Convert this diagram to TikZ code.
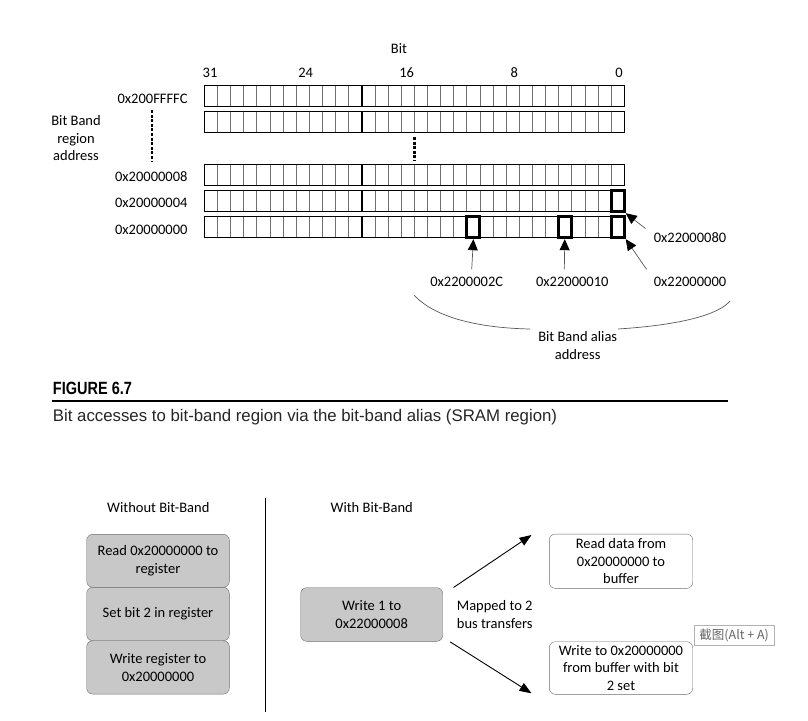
\documentclass[tikz,border=0pt]{standalone}
\usepackage{fontspec}
\setmainfont{Carlito}
\newfontfamily\capfont{Liberation Sans}
\newfontfamily\figfont[FakeStretch=0.82]{Liberation Sans}
\newfontfamily\cjkfont{Noto Sans CJK SC}
\usetikzlibrary{arrows.meta}
\definecolor{boxgray}{HTML}{C8C8C8}
\definecolor{edgegray}{HTML}{6E6E6E}
\definecolor{cellgray}{HTML}{707070}

\begin{document}
\begin{tikzpicture}[x=1pt,y=-1pt,
    txt/.style={font=\fontsize{14.5}{17.6}\selectfont,inner sep=0pt},
    hbit/.style={draw,line width=3pt,minimum width=13.1pt,minimum height=21pt,inner sep=0pt},
    ptr/.style={draw=gray!70!black,line width=0.7pt,-{Triangle[length=11pt,width=10pt,color=black]}},
    bus/.style={line width=0.9pt,-{Triangle[length=12pt,width=9pt]}},
    greybox/.style={txt,draw=edgegray,fill=boxgray,rounded corners=6pt,minimum width=142.6pt,minimum height=53pt,align=center},
    whitebox/.style={txt,draw=edgegray,fill=white,rounded corners=6pt,minimum width=143.4pt,minimum height=53pt,align=center}]

  \fill[white] (0,0) rectangle (808,720);

  % register rows
  \foreach \rowy in {85,111.7,164.3,190.7,216.7} {
    \foreach \i in {1,...,31}
      \draw[cellgray,line width=0.8pt] (204.3+13.125*\i,\rowy) -- ++(0,21);
    \draw[line width=1.6pt] (204.3+13.125*12,\rowy) -- ++(0,21);
    \draw[line width=0.9pt] (204.3,\rowy) rectangle ++(420,21);
  }

  % bit numbers
  \node[txt] (bit) at (399,49) {Bit};
  \draw
    (210,72.7) node[txt] (b31){31}
    (305.7,72.7) node[txt] (b24){24}
    (406.7,72.7) node[txt] (b16){16}
    (514.3,72.7) node[txt] (b8){8}
    (619,72.7) node[txt] (b0){0};

  % region addresses
  \draw
    (187.7,99.3) node[txt,anchor=east] (aFFFC){0x200FFFFC}
    (187.7,176.7) node[txt,anchor=east] (a08){0x20000008}
    (187.7,203.3) node[txt,anchor=east] (a04){0x20000004}
    (187.7,230) node[txt,anchor=east] (a00){0x20000000};
  \node[txt,align=center] (region) at (76,138.2) {Bit Band\\region\\address};
  \draw[line width=2.5pt,dash pattern=on 3pt off 1.6pt] (152,110) -- (152,161.7);
  \draw[line width=2.5pt,dash pattern=on 3pt off 1.6pt] (414.5,137) -- (414.5,160.7);

  % highlighted bits
  \node[hbit] (h80) at (617.7,201.2) {};
  \node[hbit] (h00) at (617.7,227.2) {};
  \node[hbit] (h2C) at (473.4,227.2) {};
  \node[hbit] (h10) at (564.8,227.2) {};

  % alias addresses
  \draw
    (690,237.8) node[txt] (l80){0x22000080}
    (690,282.3) node[txt] (l00){0x22000000}
    (466.7,282.3) node[txt] (l2C){0x2200002C}
    (572.3,282.3) node[txt] (l10){0x22000010};
  \begin{scope}[ptr]
    \draw ([shift={(-8,-4)}]l80.north west) to[shorten >=-3pt] (h80.south east);
    \draw ([shift={(-7,-8)}]l00.north west) to[shorten >=-3pt] (h00.south east);
    \draw ([shift={(5,-8)}]l2C.north) to[shorten >=-4pt] (h2C.south);
    \draw ([shift={(-8,-8)}]l10.north) to[shorten >=-4pt] (h10.south);
  \end{scope}
  \node[txt,align=center] (alias) at (577.7,345.5) {Bit Band alias\\address};
  \draw[gray!70!black,line width=0.7pt] (414,295) .. controls (435,318) and (480,328) .. (530,329);
  \draw[gray!70!black,line width=0.7pt] (618,329) .. controls (680,325) and (718,315) .. (730,301);

  % caption
  \node[anchor=base west,inner sep=0pt,font=\figfont\bfseries\fontsize{17.7}{20}\selectfont] (fig) at (52.7,394.3) {FIGURE 6.7};
  \draw[line width=2pt] (51.7,401) -- (727.7,401);
  \node[anchor=base west,inner sep=0pt,text=black!85,font=\capfont\fontsize{16.8}{20}\selectfont] (cap) at (52.7,421.7) {Bit accesses to bit-band region via the bit-band alias (SRAM region)};

  % without / with bit-band
  \node[txt] (without) at (158.3,507.3) {Without Bit-Band};
  \node[txt] (with) at (371.7,507.3) {With Bit-Band};
  \draw[line width=0.8pt] (265.7,498) -- (265.7,711.7);
  \node[greybox] (rd) at (158,560.8) {Read 0x20000000 to\\register};
  \node[greybox,minimum height=53.4pt] (setb) at (158,614) {Set bit 2 in register};
  \node[greybox,minimum height=53.3pt] (wr) at (158,667.4) {Write register to\\0x20000000};

  \node[greybox,minimum width=142pt,minimum height=53.6pt] (w1) at (371.7,614.5) {Write 1 to\\0x22000008};
  \node[txt,anchor=west,align=left] (map) at (456.7,614.7) {Mapped to 2\\bus transfers};
  \node[whitebox,minimum height=54.3pt] (rdbuf) at (621,561.2) {Read data from\\0x20000000 to\\buffer};
  \node[whitebox,minimum height=52.6pt] (wrbuf) at (621,668) {Write to 0x20000000\\from buffer with bit\\2 set};
  \draw[bus] ([shift={(10.6,0)}]w1.north east) -- ([shift={(-17.6,-26.2)}]rdbuf.west);
  \draw[bus] ([shift={(7.3,0.4)}]w1.south east) -- ([shift={(-17.6,25.3)}]wrbuf.west);

  \node[draw=gray!60,line width=0.6pt,text=gray!80!black,font=\cjkfont\fontsize{12.5}{14}\selectfont,minimum width=80pt,minimum height=19.3pt,inner sep=0pt] (tip) at (734.2,635.3) {截图(Alt~+~A)};
\end{tikzpicture}
\end{document}
